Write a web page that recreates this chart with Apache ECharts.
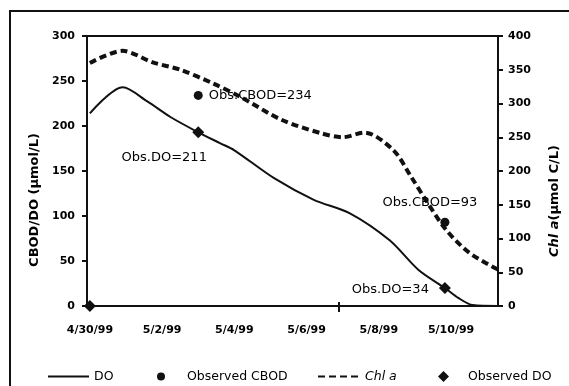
<!DOCTYPE html>
<html>
<head>
<meta charset="utf-8">
<script src="https://cdn.jsdelivr.net/npm/echarts@6/dist/echarts.min.js"></script>
<style>
  html, body { margin: 0; padding: 0; background: #fff; }
  #chart { width: 569px; height: 386px; }
</style>
</head>
<body>
<div id="chart"></div>
<script>
// x values are days after 4/30/99
const tickDays = [0, 2, 4, 6, 8, 10];
const dateLabels = ['4/30/99', '5/2/99', '5/4/99', '5/6/99', '5/8/99', '5/10/99'];

const doDays = [0, 0.91, 1.6, 2.23, 3.0, 3.6, 4.0, 5.1, 6.2, 7.2, 8.3, 9.1, 9.83, 10.2, 10.6, 11.3];
const doValues = [214, 243, 227, 210, 193, 181, 173, 142, 118, 103, 73, 40, 20, 9, 1, 0];

const chlDays = [0, 0.9, 1.74, 2.5, 3.4, 4.16, 5.3, 6.4, 7.0, 7.6, 8.4, 8.9, 9.3, 9.86, 10.5, 11.3];
const chlValues = [360, 378, 361, 350, 330, 310, 276, 256, 250, 257, 231, 191, 157, 113, 79, 54];

const obsCbodDays = [3.0, 9.83];
const obsCbodValues = [234, 93];
const obsCbodLabels = ['Obs.CBOD=234', 'Obs.CBOD=93'];

const obsDoDays = [0, 3.0, 9.83];
const obsDoValues = [0, 193, 20];
const obsDoLabels = ['', 'Obs.DO=211', 'Obs.DO=34'];

const ink = '#111';
const font = 'DejaVu Sans';

const zip = (xs, ys) => xs.map((x, i) => [x, ys[i]]);

// where each annotation sits relative to its marker
const cbodLabelPlace = [
  { position: 'right', distance: 6, offset: [0, 0] },
  { position: 'top', distance: 9, offset: [-15, 0] },
];
const doLabelPlace = [
  { show: false },
  { position: 'bottom', distance: 13, offset: [-34, 0] },
  { position: 'left', distance: 10, offset: [0, 2] },
];

const annot = { color: '#000', fontFamily: font, fontSize: 13 };

const chart = echarts.init(document.getElementById('chart'));

const legendBase = {
  top: 365,
  itemGap: 0,
  textStyle: { color: '#000', fontFamily: font, fontSize: 12.5 },
};

const tickLabel = { color: '#000', fontFamily: font, fontWeight: 'bold', fontSize: 11 };

chart.setOption({
  animation: false,
  grid: {
    left: 87, right: 69, top: 36, bottom: 80,
    show: true, borderColor: ink, borderWidth: 2,
  },
  graphic: [{
    type: 'rect',
    shape: { x: 10, y: 11, width: 640, height: 440 },
    style: { fill: 'none', stroke: ink, lineWidth: 2 },
    silent: true,
  }],
  xAxis: [{
    type: 'value',
    min: -0.08,
    max: 11.3,
    splitLine: { show: false },
    axisLine: { onZero: false, lineStyle: { color: ink, width: 2 } },
    axisTick: { show: true, customValues: [6.9], length: 6, lineStyle: { color: ink, width: 2 } },
    axisLabel: {
      customValues: tickDays,
      formatter: (v) => dateLabels[tickDays.indexOf(v)],
      margin: 19,
      ...tickLabel,
    },
  }, {
    type: 'value',
    min: -0.08,
    max: 11.3,
    position: 'bottom',
    splitLine: { show: false },
    axisLine: { show: false, onZero: false },
    axisTick: { show: true, inside: true, customValues: [6.9], length: 4, lineStyle: { color: ink, width: 2 } },
    axisLabel: { show: false },
  }],
  yAxis: [{
    type: 'value',
    min: 0, max: 300, interval: 50,
    name: 'CBOD/DO (μmol/L)',
    nameLocation: 'middle',
    nameRotate: 90,
    nameGap: 42,
    nameTextStyle: { color: '#000', fontFamily: font, fontWeight: 'bold', fontSize: 13, padding: [0, 58, 0, 0] },
    splitLine: { show: false },
    axisLine: { show: true, onZero: false, lineStyle: { color: ink, width: 2 } },
    axisTick: { show: true, length: 5, lineStyle: { color: ink, width: 2 } },
    axisLabel: { margin: 12, ...tickLabel },
  }, {
    type: 'value',
    min: 0, max: 400, interval: 50,
    position: 'right',
    name: '{i|Chl a}(μmol C/L)',
    nameLocation: 'middle',
    nameRotate: 90,
    nameGap: 50,
    nameTextStyle: {
      color: '#000', fontFamily: font, fontWeight: 'bold', fontSize: 13, padding: [0, 60, 0, 0],
      rich: { i: { fontStyle: 'italic', fontWeight: 'bold', fontFamily: font, fontSize: 13, color: '#000' } },
    },
    splitLine: { show: false },
    axisLine: { show: true, onZero: false, lineStyle: { color: ink, width: 2 } },
    axisTick: { show: true, length: 5, lineStyle: { color: ink, width: 2 } },
    axisLabel: { margin: 10, ...tickLabel },
  }],
  legend: [
    {
      ...legendBase, left: 42, itemWidth: 41, itemHeight: 14,
      itemStyle: { opacity: 0 },
      data: ['DO'],
    },
    {
      ...legendBase, left: 152, itemWidth: 8, itemHeight: 8,
      textStyle: { ...legendBase.textStyle, padding: [0, 0, 0, 17] },
      data: ['Observed CBOD'],
    },
    {
      ...legendBase, left: 312, itemWidth: 42, itemHeight: 14,
      itemStyle: { opacity: 0 },
      textStyle: { ...legendBase.textStyle, fontStyle: 'italic' },
      data: ['Chl a'],
    },
    {
      ...legendBase, left: 433, itemWidth: 11, itemHeight: 11,
      textStyle: { ...legendBase.textStyle, padding: [0, 0, 0, 14] },
      data: ['Observed DO'],
    },
  ],
  series: [
    {
      name: 'DO',
      type: 'line',
      xAxisIndex: 0,
      yAxisIndex: 0,
      data: zip(doDays, doValues),
      symbol: 'none',
      smooth: 0.3,
      color: ink,
      lineStyle: { color: ink, width: 2 },
      z: 3,
    },
    {
      name: 'Observed CBOD',
      type: 'scatter',
      xAxisIndex: 0,
      yAxisIndex: 0,
      symbol: 'circle',
      symbolSize: 9,
      itemStyle: { color: ink, opacity: 1 },
      data: zip(obsCbodDays, obsCbodValues).map((p, i) => ({
        value: p,
        label: { show: true, formatter: obsCbodLabels[i], ...annot, ...cbodLabelPlace[i] },
      })),
      z: 5,
    },
    {
      name: 'Chl a',
      type: 'line',
      xAxisIndex: 0,
      yAxisIndex: 1,
      data: zip(chlDays, chlValues),
      symbol: 'none',
      smooth: 0.3,
      color: ink,
      lineStyle: { color: ink, width: 4, type: [7, 4], cap: 'butt' },
      z: 4,
    },
    {
      name: 'Observed DO',
      type: 'scatter',
      xAxisIndex: 0,
      yAxisIndex: 0,
      symbol: 'diamond',
      symbolSize: 12,
      itemStyle: { color: ink, opacity: 1 },
      data: zip(obsDoDays, obsDoValues).map((p, i) => ({
        value: p,
        label: { show: true, formatter: obsDoLabels[i], ...annot, ...doLabelPlace[i] },
      })),
      z: 5,
    },
  ],
});
</script>
</body>
</html>
